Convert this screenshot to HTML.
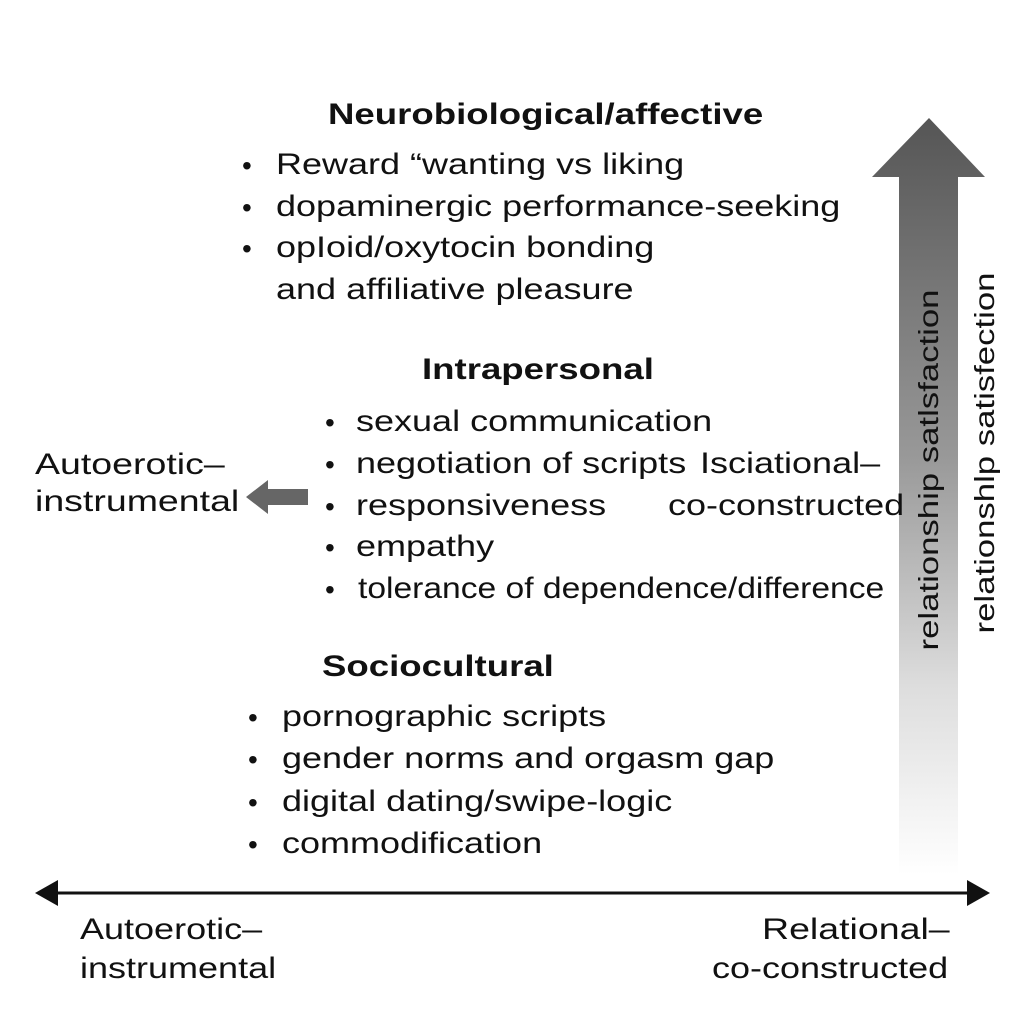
<!DOCTYPE html>
<html><head><meta charset="utf-8"><style>
body{margin:0;width:1024px;height:1024px;background:#fff;position:relative;overflow:hidden;font-family:"Liberation Sans",Arial,sans-serif;color:#111}
.t{position:absolute;white-space:nowrap;font-size:30px;line-height:1;transform-origin:0 0;transform:scaleX(1.2)}
.b{position:absolute;font-size:28px;line-height:1}
.h{font-weight:bold;font-size:30px;transform:scaleX(1.22)}
.l{transform:scaleX(1.25)}
.r{position:absolute;white-space:nowrap;font-size:28px;transform:translate(-50%,-50%) rotate(-90deg) scaleX(1.24);line-height:1}
</style></head><body>
<svg width="1024" height="1024" style="position:absolute;left:0;top:0">
<defs><linearGradient id="g" x1="0" y1="0" x2="0" y2="1">
<stop offset="0" stop-color="#555"/><stop offset="0.45" stop-color="#999"/><stop offset="0.75" stop-color="#ddd"/><stop offset="1" stop-color="#fff"/></linearGradient></defs>
<polygon points="929,118 985,177 958,177 958,875 899,875 899,177 872,177" fill="url(#g)"/>
<polygon points="246,497 268,480 268,489 308,489 308,505 268,505 268,514" fill="#666"/>
<line x1="50" y1="893" x2="975" y2="893" stroke="#111" stroke-width="3"/>
<polygon points="35,893 58,880 58,906" fill="#111"/>
<polygon points="990,893 967,880 967,906" fill="#111"/>
</svg>
<div class="t h" style="left:328px;top:100px">Neurobiological/affective</div>
<div class="b" style="left:242px;top:152px">•</div><div class="t" style="left:276px;top:150px">Reward “wanting vs liking</div>
<div class="b" style="left:242px;top:194px">•</div><div class="t" style="left:276px;top:192px">dopaminergic performance-seeking</div>
<div class="b" style="left:242px;top:235px">•</div><div class="t" style="left:276px;top:233px">opIoid/oxytocin bonding</div>
<div class="t" style="left:276px;top:275px">and affiliative pleasure</div>
<div class="t h" style="left:422px;top:355px">Intrapersonal</div>
<div class="b" style="left:325px;top:409px">•</div><div class="t" style="left:356px;top:407px">sexual communication</div>
<div class="b" style="left:325px;top:451px">•</div><div class="t" style="left:356px;top:449px">negotiation of scripts</div>
<div class="t" style="left:700px;top:449px">Isciational–</div>
<div class="b" style="left:325px;top:493px">•</div><div class="t" style="left:356px;top:491px">responsiveness</div>
<div class="t" style="left:668px;top:491px">co-constructed</div>
<div class="b" style="left:325px;top:534px">•</div><div class="t" style="left:356px;top:532px">empathy</div>
<div class="b" style="left:325px;top:576px">•</div><div class="t" style="left:358px;top:574px;transform:scaleX(1.12)">tolerance of dependence/difference</div>
<div class="t l" style="left:35px;top:450px">Autoerotic–</div>
<div class="t l" style="left:35px;top:487px">instrumental</div>
<div class="t h" style="left:322px;top:652px">Sociocultural</div>
<div class="b" style="left:248px;top:704px">•</div><div class="t" style="left:282px;top:702px">pornographic scripts</div>
<div class="b" style="left:248px;top:746px">•</div><div class="t" style="left:282px;top:744px">gender norms and orgasm gap</div>
<div class="b" style="left:248px;top:789px">•</div><div class="t" style="left:282px;top:787px">digital dating/swipe-logic</div>
<div class="b" style="left:248px;top:831px">•</div><div class="t" style="left:282px;top:829px">commodification</div>
<div class="t" style="left:80px;top:915px">Autoerotic–</div>
<div class="t" style="left:80px;top:954px">instrumental</div>
<div class="t l" style="left:762px;top:915px">Relational–</div>
<div class="t" style="left:712px;top:954px">co-constructed</div>
<div class="r" style="left:929px;top:470px">relationship satlsfaction</div>
<div class="r" style="left:985px;top:453px">relationshlp satisfection</div>
</body></html>
